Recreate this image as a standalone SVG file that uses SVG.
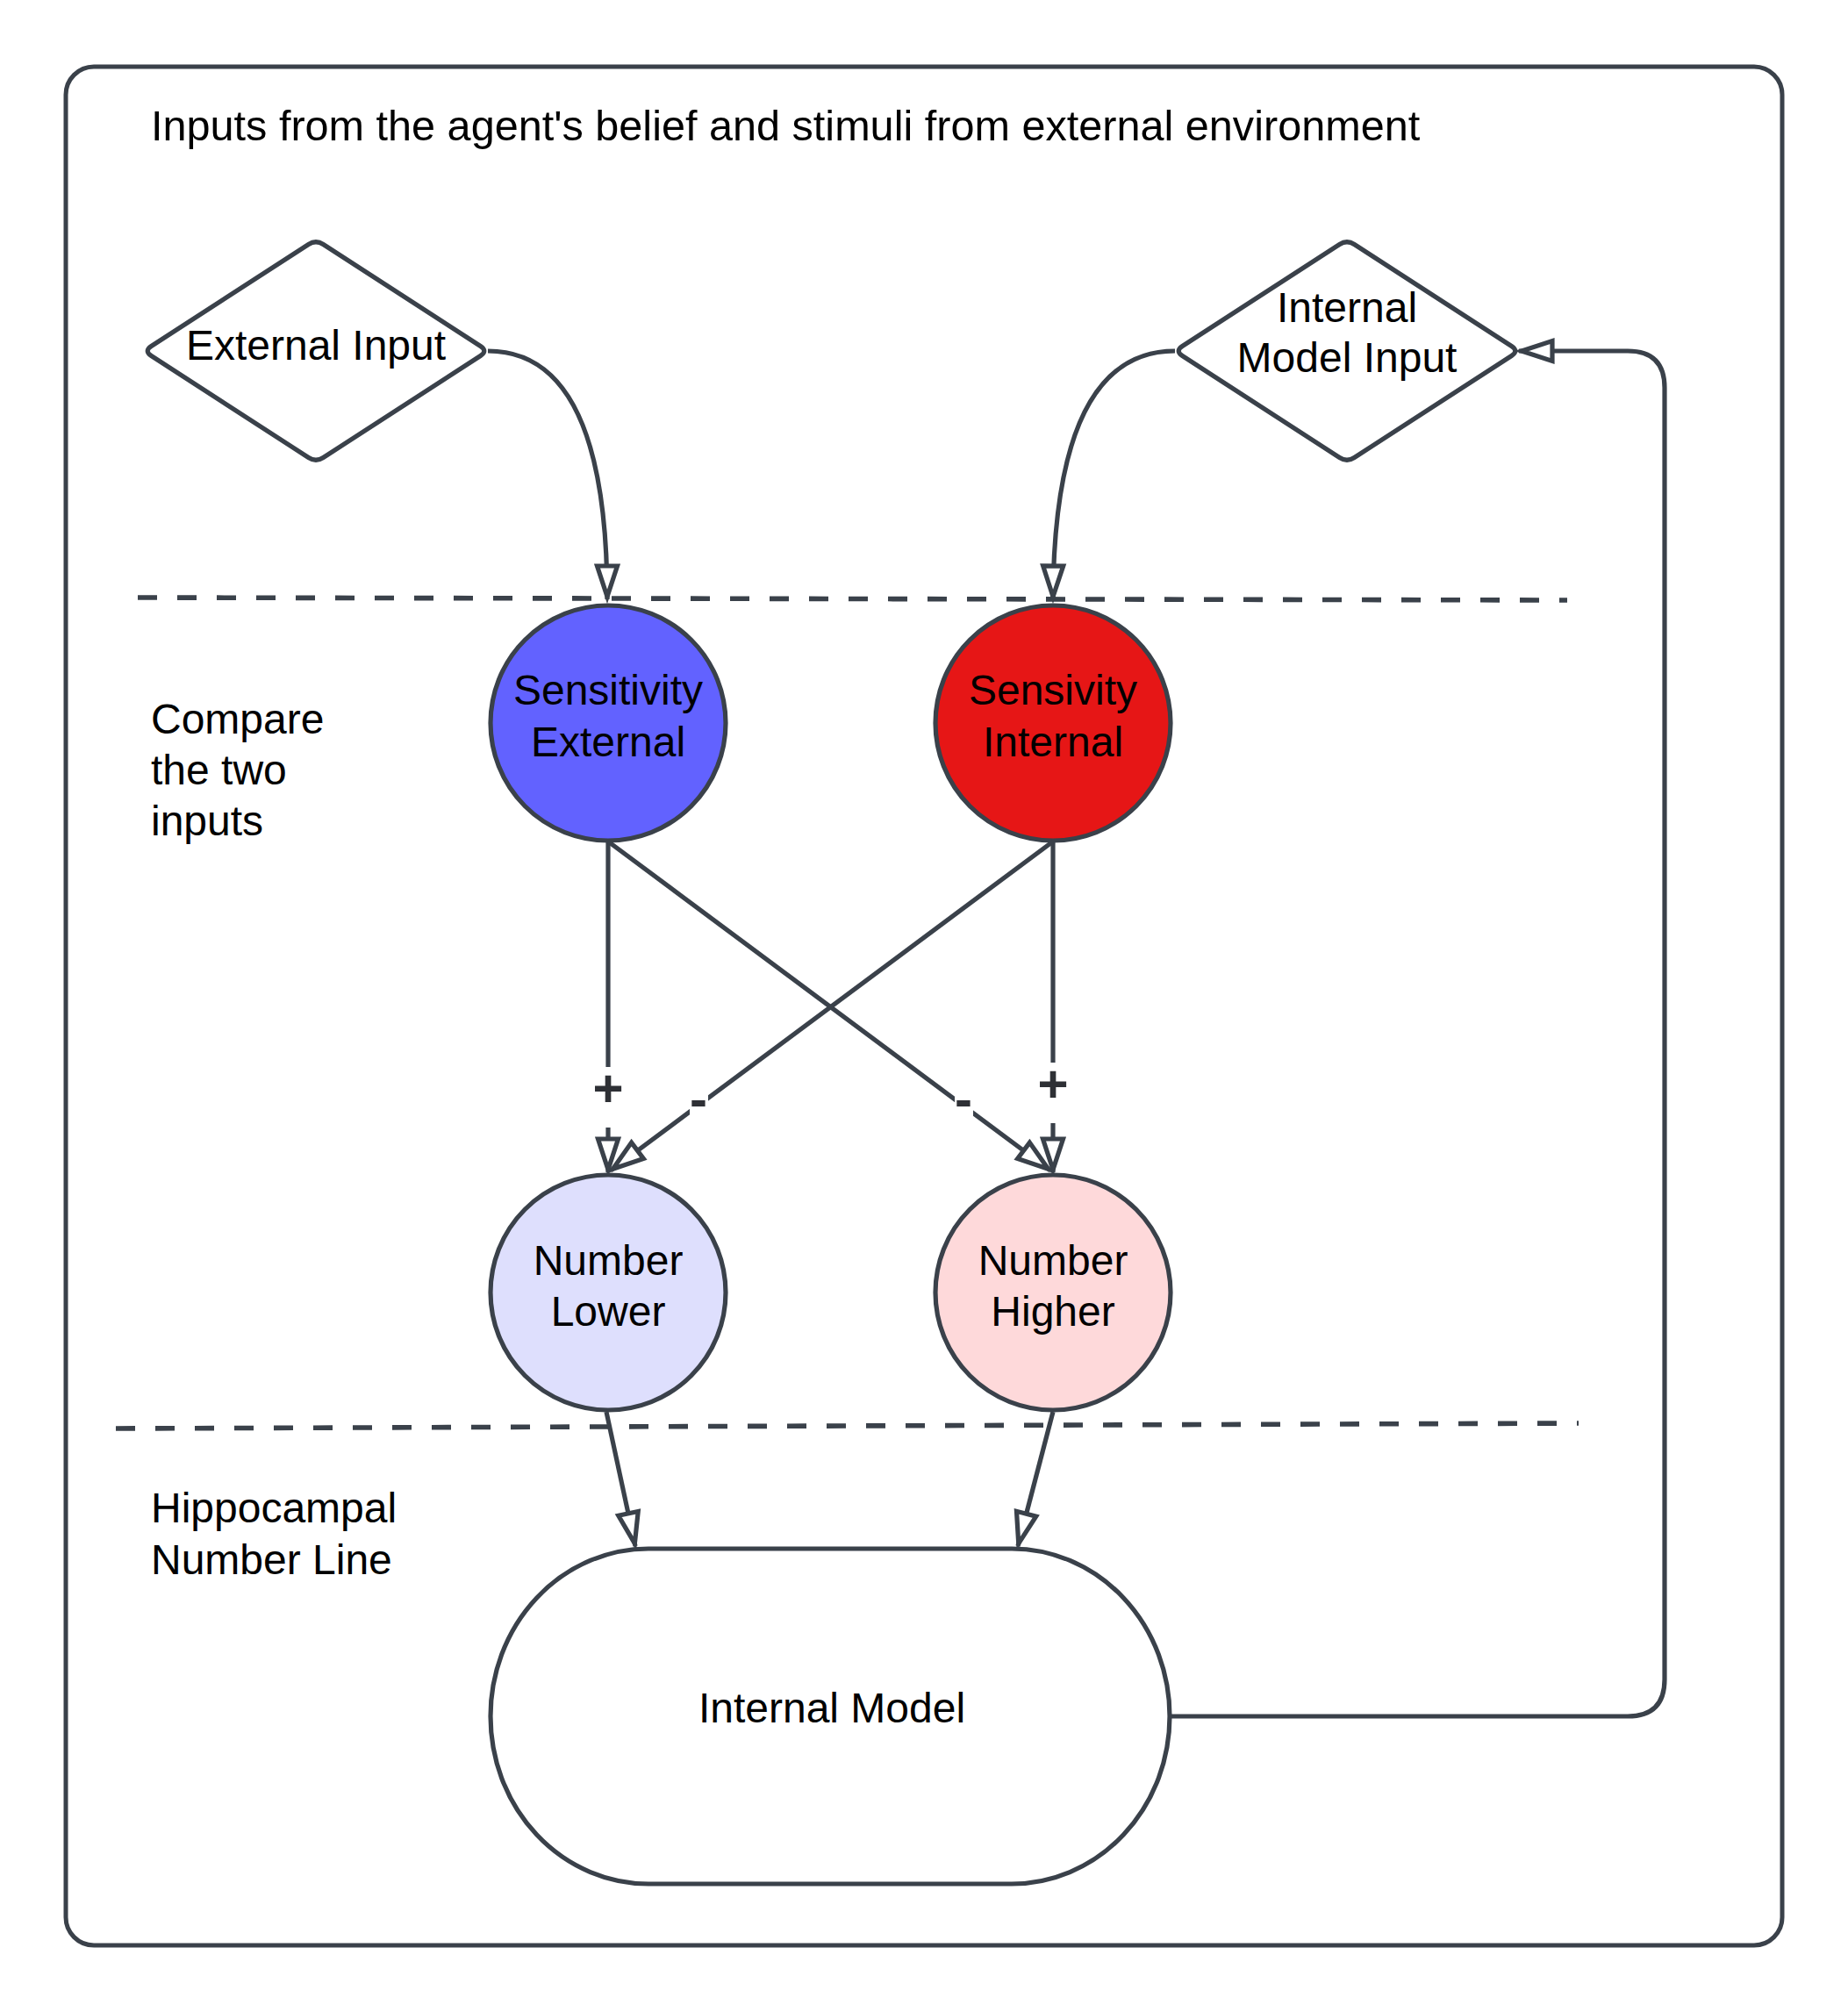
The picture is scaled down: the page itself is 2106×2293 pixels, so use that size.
<svg xmlns="http://www.w3.org/2000/svg" xmlns:xlink="http://www.w3.org/1999/xlink" width="2106" height="2293" viewBox="0 0 2106 2293">
  <defs>
    <style>
      .frame { fill: #ffffff; stroke: #3a414a; stroke-width: 5; }
      .shape { stroke: #3a414a; stroke-width: 5.2; stroke-linejoin: round; }
      .edge { fill: none; stroke: #3a414a; stroke-width: 5.2; }
      .divider { fill: none; stroke: #3a414a; stroke-width: 5.6; stroke-dasharray: 22 23; }
      .txt { font-family: "Liberation Sans", Arial, sans-serif; font-size: 48px; fill: #000000; }
      .title { font-size: 48.6px; }
      .mid { text-anchor: middle; }
      .sign { font-family: "Liberation Sans", Arial, sans-serif; font-size: 60px; font-weight: bold; fill: #2e3035; text-anchor: middle; }
      .labelbg { fill: #ffffff; stroke: none; }
    </style>
    <!-- diamond with slightly rounded vertices, centred on the origin -->
    <path id="diamond" d="M-187.6,-5.5 L-8.4,-121.5 Q0,-127 8.4,-121.5 L187.6,-5.5 Q196,0 187.6,5.5 L8.4,121.5 Q0,127 -8.4,121.5 L-187.6,5.5 Q-196,0 -187.6,-5.5 Z"/>
    <!-- open triangular arrowhead -->
    <marker id="arrow" markerUnits="userSpaceOnUse" viewBox="-50 -20 60 40" markerWidth="60" markerHeight="40" refX="0" refY="0" orient="auto" overflow="visible">
      <path d="M-3,0 L-38,-11.5 L-38,11.5 Z" fill="#ffffff" stroke="#3a414a" stroke-width="5.2" stroke-linejoin="miter"/>
    </marker>
  </defs>

  <rect width="2106" height="2293" fill="#ffffff"/>

  <!-- outer container -->
  <g id="container">
    <rect class="frame" x="75" y="76" width="1956" height="2141" rx="32" ry="32"/>
    <text class="txt title" x="172" y="160">Inputs from the agent's belief and stimuli from external environment</text>
  </g>

  <!-- section dividers and section captions -->
  <g id="sections">
    <line class="divider" x1="157" y1="681" x2="1786" y2="684"/>
    <line class="divider" x1="132" y1="1628" x2="1799" y2="1622"/>
    <text class="txt" x="172" y="836">Compare</text>
    <text class="txt" x="172" y="894">the two</text>
    <text class="txt" x="172" y="952">inputs</text>
    <text class="txt" x="172" y="1735">Hippocampal</text>
    <text class="txt" x="172" y="1794">Number Line</text>
  </g>

  <!-- nodes -->
  <g id="external-input">
    <use xlink:href="#diamond" href="#diamond" x="360" y="400" class="shape" fill="#ffffff"/>
    <text class="txt mid" x="360" y="410">External Input</text>
  </g>

  <g id="internal-model-input">
    <use xlink:href="#diamond" href="#diamond" x="1535" y="400" class="shape" fill="#ffffff"/>
    <text class="txt mid" x="1535" y="367">Internal</text>
    <text class="txt mid" x="1535" y="424">Model Input</text>
  </g>

  <g id="sensitivity-external">
    <circle class="shape" cx="693" cy="824" r="134" fill="#6262ff"/>
    <text class="txt mid" x="693" y="803">Sensitivity</text>
    <text class="txt mid" x="693" y="862">External</text>
  </g>

  <g id="sensitivity-internal">
    <circle class="shape" cx="1200" cy="824" r="134" fill="#e61616"/>
    <text class="txt mid" x="1200" y="803">Sensivity</text>
    <text class="txt mid" x="1200" y="862">Internal</text>
  </g>

  <g id="number-lower">
    <circle class="shape" cx="693" cy="1473" r="134" fill="#dedffd"/>
    <text class="txt mid" x="693" y="1453">Number</text>
    <text class="txt mid" x="693" y="1511">Lower</text>
  </g>

  <g id="number-higher">
    <circle class="shape" cx="1200" cy="1473" r="134" fill="#fed9da"/>
    <text class="txt mid" x="1200" y="1453">Number</text>
    <text class="txt mid" x="1200" y="1511">Higher</text>
  </g>

  <g id="internal-model">
    <rect class="shape" x="559" y="1765" width="774" height="382" rx="180" ry="191" fill="#ffffff"/>
    <text class="txt mid" x="948" y="1963">Internal Model</text>
  </g>

  <!-- connectors -->
  <g id="connectors">
    <path class="edge" d="M556,400 C640,400 692,480 692,683" marker-end="url(#arrow)"/>
    <path class="edge" d="M1339,400 C1255,400 1201,480 1200,683" marker-end="url(#arrow)"/>

    <path class="edge" d="M693,959 L693,1336" marker-end="url(#arrow)"/>
    <path class="edge" d="M1200,959 L1200,1336" marker-end="url(#arrow)"/>
    <path class="edge" d="M693,959 L1197,1334" marker-end="url(#arrow)"/>
    <path class="edge" d="M1200,959 L696,1334" marker-end="url(#arrow)"/>

    <path class="edge" d="M691,1609 L724,1762" marker-end="url(#arrow)"/>
    <path class="edge" d="M1200,1609 L1160,1762" marker-end="url(#arrow)"/>

    <path class="edge" d="M1333,1956 L1855,1956 Q1897,1956 1897,1914 L1897,442 Q1897,400 1855,400 L1731,400" marker-end="url(#arrow)"/>

    <!-- sign labels on the comparison edges -->
    <rect class="labelbg" x="675" y="1216" width="36" height="69"/>
    <text class="sign" x="693" y="1261">+</text>
    <rect class="labelbg" x="1182" y="1211" width="36" height="69"/>
    <text class="sign" x="1200" y="1256">+</text>
    <rect class="labelbg" x="786" y="1226" width="21" height="69"/>
    <text class="sign" x="796" y="1273">-</text>
    <rect class="labelbg" x="1088" y="1226" width="21" height="69"/>
    <text class="sign" x="1098" y="1273">-</text>
  </g>
</svg>
